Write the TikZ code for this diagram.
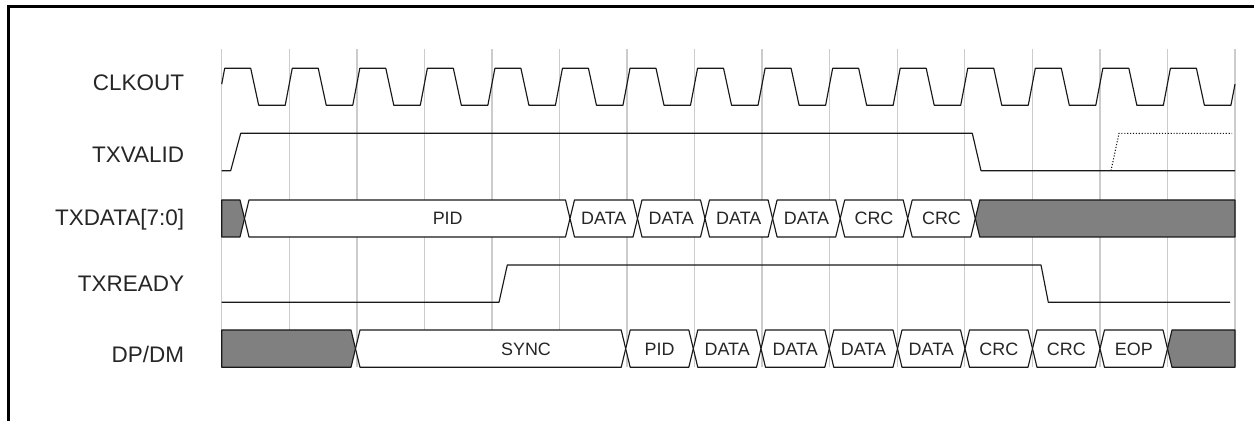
\documentclass[tikz,border=0pt]{standalone}
\usepackage{fontspec}
\setmainfont{Liberation Sans}
\usepackage{xcolor}
\usepackage{tikz}
\tikzset{
  sig/.style={draw=black!90, line width=0.65pt, line join=round},
  gridln/.style={draw=black!20, line width=0.8pt},
  busbox/.style={sig, fill=white},
  busfill/.style={sig, fill=black!50},
  siglabel/.style={anchor=base east, inner sep=0pt, text=black!85, font=\fontsize{12.8}{15}\selectfont},
  buslabel/.style={anchor=base, inner sep=0pt, text=black!85, font=\fontsize{10.2}{12}\selectfont}
}

\begin{document}
\begin{tikzpicture}[x=0.02cm, y=-0.02cm]
        \useasboundingbox (0,0) rectangle (1254,421);
        \fill[white] (0,0) rectangle (1254,421);
        \draw[line width=1.4pt] (8.7,430) -- (8.7,6.7) -- (1260,6.7);

        % clock grid
        \foreach \k in {0,...,15}
          \draw[gridln] (221.7+67.55*\k,49) -- (221.7+67.55*\k,367);

        % signal names
        \node[siglabel] (clkout) at (184.5,91) {CLKOUT};
        \node[siglabel] (txvalid) at (184.5,162.5) {TXVALID};
        \node[siglabel] (txdata) at (184.5,226) {TXDATA[7:0]};
        \node[siglabel] (txready) at (184.5,292) {TXREADY};
        \node[siglabel] (dpdm) at (184.5,362.7) {DP/DM};

        % CLKOUT
        \draw[sig] (221.7,84.2)
          \foreach \k [evaluate=\k as \g using 221.7+67.55*\k] in {0,...,14}
            { -- (\g+3,68.3) -- (\g+29,68.3) -- (\g+37,105.3) -- (\g+63.5,105.3) }
          -- (1235,84.2);

        % TXVALID
        \draw[sig] (221.7,170.7) -- (230.7,170.7) -- (240.7,133.3) -- (972.3,133.3)
          -- (981,170.7) -- (1235,170.7);
        \draw[sig, densely dotted, line width=0.6pt] (1111,170.7) -- (1119,133.3) -- (1232,133.3);

        % TXDATA[7:0]
        \draw[busfill] (221.7,200) -- (240,200) -- (244.5,218.5) -- (240,237) -- (221.7,237) -- cycle;
        \foreach \a/\b/\lx/\txt [count=\i] in {
          244.5/570/447.7/PID,
          570/637.5/603.8/DATA, 637.5/705/671.3/DATA,
          705/772.6/738.8/DATA, 772.6/840.2/806.4/DATA,
          840.2/907.7/874/CRC, 907.7/975.3/941.5/CRC}
        {
          \draw[busbox] (\a,218.5) -- (\a+4.5,200) -- (\b-4.5,200) -- (\b,218.5)
            -- (\b-4.5,237) -- (\a+4.5,237) -- cycle;
          \node[buslabel] (txd\i) at (\lx,225) {\txt};
        }
        \draw[busfill] (975.3,218.5) -- (979.8,200) -- (1235,200) -- (1235,237) -- (979.8,237) -- cycle;

        % TXREADY
        \draw[sig] (221.7,302.3) -- (499,302.3) -- (507.3,265) -- (1041,265)
          -- (1048.3,302.3) -- (1230,302.3);

        % DP/DM
        \draw[busfill] (221.7,330) -- (351,330) -- (355.5,348.7) -- (351,367.3) -- (221.7,367.3) -- cycle;
        \foreach \a/\b/\lx/\txt [count=\i] in {
          355.5/625.7/526/SYNC,
          625.7/693.3/659.5/PID, 693.3/761/727.2/DATA,
          761/829.3/795.2/DATA, 829.3/897.5/863.4/DATA,
          897.5/965/931.3/DATA, 965/1032.5/998.8/CRC,
          1032.5/1100/1066.3/CRC, 1100/1167.5/1133.8/EOP}
        {
          \draw[busbox] (\a,348.7) -- (\a+4.5,330) -- (\b-4.5,330) -- (\b,348.7)
            -- (\b-4.5,367.3) -- (\a+4.5,367.3) -- cycle;
          \node[buslabel] (dp\i) at (\lx,355.2) {\txt};
        }
        \draw[busfill] (1167.5,348.7) -- (1172,330) -- (1235,330) -- (1235,367.3) -- (1172,367.3) -- cycle;
      \end{tikzpicture}
\end{document}
